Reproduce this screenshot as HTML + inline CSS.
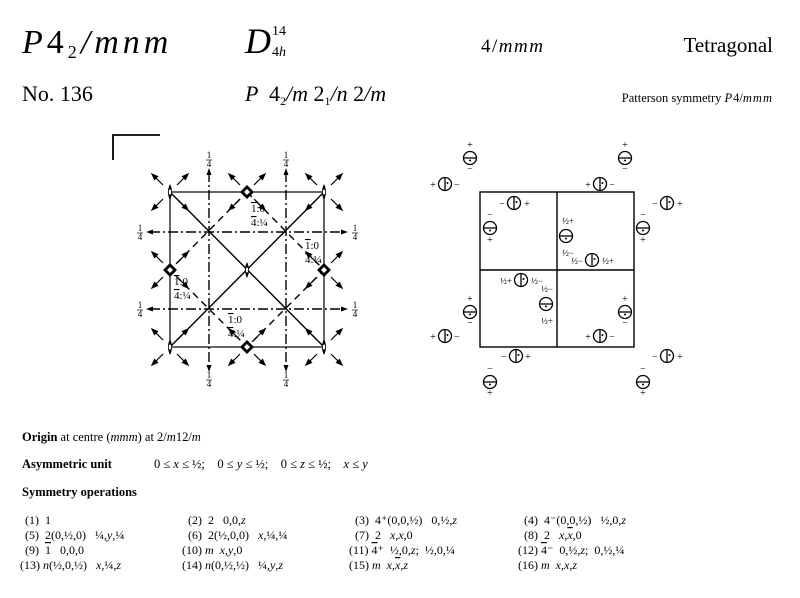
<!DOCTYPE html>
<html><head><meta charset="utf-8"><style>
body{margin:0;background:#fff;}
svg{display:block;font-family:"Liberation Serif",serif;}
text{white-space:pre;}
.i{font-style:italic}
.o{text-decoration:overline}
</style></head><body>
<svg width="800" height="598" viewBox="0 0 800 598" xmlns="http://www.w3.org/2000/svg" xml:space="preserve">
<defs>
<g id="cv"><circle r="6.5" fill="#fff" stroke="#000" stroke-width="1.3"/><line x1="0" y1="-6.5" x2="0" y2="6.5" stroke="#000" stroke-width="1.3"/><circle cx="2.5" cy="-1" r="1" fill="#000"/></g>
<g id="ch"><circle r="6.5" fill="#fff" stroke="#000" stroke-width="1.3"/><line x1="-6.5" y1="0" x2="6.5" y2="0" stroke="#000" stroke-width="1.3"/><circle cx="0" cy="2.5" r="1" fill="#000"/></g>
<g id="two"><path d="M0,-8 Q4,0 0,8 Q-4,0 0,-8Z" fill="#000"/><ellipse rx="1.2" ry="2.5" fill="#fff"/></g>
<g id="four"><path d="M0,-7 L7,0 L0,7 L-7,0Z" fill="#000"/><path d="M0,-3 L3,0 L0,3 L-3,0Z" fill="#fff"/></g>
<g id="arr" stroke="#000" stroke-width="1.2" fill="#000">
<line x1="7" y1="-7" x2="15" y2="-15"/><path d="M18,-18 L12.5,-15.5 L15.5,-12.5Z"/>
<line x1="-7" y1="-7" x2="-15" y2="-15"/><path d="M-18,-18 L-12.5,-15.5 L-15.5,-12.5Z"/>
<line x1="7" y1="7" x2="15" y2="15"/><path d="M18,18 L12.5,15.5 L15.5,12.5Z"/>
<line x1="-7" y1="7" x2="-15" y2="15"/><path d="M-18,18 L-12.5,15.5 L-15.5,12.5Z"/>
</g>
</defs>

<!-- header -->
<text x="22" y="53" font-size="34" class="i" letter-spacing="4">P<tspan font-style="normal">4</tspan><tspan font-size="18" font-style="normal" dy="5">2</tspan><tspan dy="-5">/mnm</tspan></text>
<text x="245" y="53" font-size="36" class="i">D</text>
<text x="272" y="35" font-size="14">14</text>
<text x="272" y="56" font-size="14">4<tspan class="i">h</tspan></text>
<text x="481" y="52" font-size="19" letter-spacing="1.5">4/<tspan class="i">mmm</tspan></text>
<text x="773" y="52" font-size="21" text-anchor="end">Tetragonal</text>
<text x="22" y="101" font-size="22">No. 136</text>
<text x="245" y="101" font-size="22" class="i">P  <tspan font-style="normal">4</tspan><tspan font-size="12" font-style="normal" dy="4">2</tspan><tspan dy="-4">/m </tspan><tspan font-style="normal">2</tspan><tspan font-size="12" font-style="normal" dy="4">1</tspan><tspan dy="-4">/n </tspan><tspan font-style="normal">2</tspan>/m</text>
<text x="773" y="102" font-size="12.5" text-anchor="end">Patterson symmetry <tspan class="i" letter-spacing="1">P</tspan>4/<tspan class="i" letter-spacing="1">mmm</tspan></text>

<!-- left diagram -->
<g stroke="#000" fill="none" stroke-width="1.4">
<polyline points="113,160 113,135 160,135" stroke-width="1.8"/>
<rect x="170" y="192" width="154" height="155" stroke-width="1.2"/>
<line x1="170" y1="192" x2="324" y2="347"/>
<line x1="324" y1="192" x2="170" y2="347"/>
<polygon points="247,192 324,270 247,347 170,270" stroke-dasharray="7,5"/>
<g stroke-dasharray="10,3,2,3">
<line x1="209" y1="172" x2="209" y2="368"/>
<line x1="286" y1="172" x2="286" y2="368"/>
<line x1="150" y1="232" x2="344" y2="232"/>
<line x1="150" y1="309" x2="344" y2="309"/>
</g>
</g>
<g fill="#000">
<path d="M209,168 l-2.5,7 h5z M286,168 l-2.5,7 h5z M209,372 l-2.5,-7 h5z M286,372 l-2.5,-7 h5z M146,232 l7,-2.5 v5z M146,309 l7,-2.5 v5z M348,232 l-7,-2.5 v5z M348,309 l-7,-2.5 v5z"/>
</g>
<g font-size="9" text-anchor="middle">
<text x="209" y="158">1</text><line x1="206" y1="160" x2="212" y2="160" stroke="#000" stroke-width=".7"/><text x="209" y="167">4</text>
<text x="286" y="158">1</text><line x1="283" y1="160" x2="289" y2="160" stroke="#000" stroke-width=".7"/><text x="286" y="167">4</text>
<text x="209" y="378">1</text><line x1="206" y1="380" x2="212" y2="380" stroke="#000" stroke-width=".7"/><text x="209" y="387">4</text>
<text x="286" y="378">1</text><line x1="283" y1="380" x2="289" y2="380" stroke="#000" stroke-width=".7"/><text x="286" y="387">4</text>
<text x="140" y="231">1</text><line x1="137" y1="233" x2="143" y2="233" stroke="#000" stroke-width=".7"/><text x="140" y="240">4</text>
<text x="140" y="308">1</text><line x1="137" y1="310" x2="143" y2="310" stroke="#000" stroke-width=".7"/><text x="140" y="317">4</text>
<text x="355" y="231">1</text><line x1="352" y1="233" x2="358" y2="233" stroke="#000" stroke-width=".7"/><text x="355" y="240">4</text>
<text x="355" y="308">1</text><line x1="352" y1="310" x2="358" y2="310" stroke="#000" stroke-width=".7"/><text x="355" y="317">4</text>
</g>
<g font-size="11">
<text x="251" y="212"><tspan class="o">1</tspan>:0</text><text x="251" y="226"><tspan class="o">4</tspan>:¼</text>
<text x="305" y="249"><tspan class="o">1</tspan>:0</text><text x="305" y="263"><tspan class="o">4</tspan>:¼</text>
<text x="174" y="285"><tspan class="o">1</tspan>:0</text><text x="174" y="299"><tspan class="o">4</tspan>:¼</text>
<text x="228" y="323"><tspan class="o">1</tspan>:0</text><text x="228" y="337"><tspan class="o">4</tspan>:¼</text>
</g>
<use href="#arr" x="170" y="192"/><use href="#arr" x="247" y="192"/><use href="#arr" x="324" y="192"/>
<use href="#arr" x="170" y="270"/><use href="#arr" x="324" y="270"/>
<use href="#arr" x="170" y="347"/><use href="#arr" x="247" y="347"/><use href="#arr" x="324" y="347"/>
<use href="#two" x="170" y="192"/><use href="#two" x="324" y="192"/><use href="#two" x="247" y="270"/><use href="#two" x="170" y="347"/><use href="#two" x="324" y="347"/>
<use href="#four" x="247" y="192"/><use href="#four" x="170" y="270"/><use href="#four" x="324" y="270"/><use href="#four" x="247" y="347"/>

<!-- right diagram -->
<g stroke="#000" fill="none" stroke-width="1.4">
<rect x="480" y="192" width="154" height="155"/>
<line x1="557" y1="192" x2="557" y2="347"/>
<line x1="480" y1="270" x2="634" y2="270"/>
</g>
<g font-size="10" text-anchor="middle">
<use href="#ch" x="470" y="158"/><text x="470" y="148">+</text><text x="470" y="172">−</text>
<use href="#cv" x="445" y="184"/><text x="433" y="188">+</text><text x="457" y="188">−</text>
<use href="#ch" x="625" y="158"/><text x="625" y="148">+</text><text x="625" y="172">−</text>
<use href="#cv" x="600" y="184"/><text x="588" y="188">+</text><text x="612" y="188">−</text>
<use href="#cv" x="514" y="203"/><text x="502" y="207">−</text><text x="527" y="207">+</text>
<use href="#ch" x="490" y="228"/><text x="490" y="218">−</text><text x="490" y="243">+</text>
<use href="#cv" x="667" y="203"/><text x="655" y="207">−</text><text x="680" y="207">+</text>
<use href="#ch" x="643" y="228"/><text x="643" y="218">−</text><text x="643" y="243">+</text>
<use href="#ch" x="566" y="236"/><text x="568" y="224" font-size="9">½+</text><text x="568" y="256" font-size="9">½−</text>
<use href="#cv" x="592" y="260"/><text x="577" y="264" font-size="9">½−</text><text x="608" y="264" font-size="9">½+</text>
<use href="#cv" x="521" y="280"/><text x="506" y="284" font-size="9">½+</text><text x="537" y="284" font-size="9">½−</text>
<use href="#ch" x="546" y="304"/><text x="547" y="292" font-size="9">½−</text><text x="547" y="324" font-size="9">½+</text>
<use href="#ch" x="470" y="312"/><text x="470" y="302">+</text><text x="470" y="326">−</text>
<use href="#cv" x="445" y="336"/><text x="433" y="340">+</text><text x="457" y="340">−</text>
<use href="#ch" x="625" y="312"/><text x="625" y="302">+</text><text x="625" y="326">−</text>
<use href="#cv" x="600" y="336"/><text x="588" y="340">+</text><text x="612" y="340">−</text>
<use href="#cv" x="516" y="356"/><text x="504" y="360">−</text><text x="528" y="360">+</text>
<use href="#ch" x="490" y="382"/><text x="490" y="372">−</text><text x="490" y="396">+</text>
<use href="#cv" x="667" y="356"/><text x="655" y="360">−</text><text x="680" y="360">+</text>
<use href="#ch" x="643" y="382"/><text x="643" y="372">−</text><text x="643" y="396">+</text>
</g>

<!-- text -->
<g font-size="12.5">
<text x="22" y="441"><tspan font-weight="bold">Origin</tspan> at centre (<tspan class="i">mmm</tspan>) at 2/<tspan class="i">m</tspan>12/<tspan class="i">m</tspan></text>
<text x="22" y="468"><tspan font-weight="bold">Asymmetric unit</tspan></text>
<text x="154" y="468">0 ≤ <tspan class="i">x</tspan> ≤ ½;    0 ≤ <tspan class="i">y</tspan> ≤ ½;    0 ≤ <tspan class="i">z</tspan> ≤ ½;    <tspan class="i">x</tspan> ≤ <tspan class="i">y</tspan></text>
<text x="22" y="496" font-weight="bold">Symmetry operations</text>
</g>
<g font-size="12">
<text x="25" y="524">(1)  1</text>
<text x="25" y="539">(5)  2(0,½,0)   ¼,<tspan class="i">y</tspan>,¼</text>
<text x="25" y="554">(9)  <tspan class="o">1</tspan>   0,0,0</text>
<text x="20" y="569">(13) <tspan class="i">n</tspan>(½,0,½)   <tspan class="i">x</tspan>,¼,<tspan class="i">z</tspan></text>
<text x="188" y="524">(2)  2   0,0,<tspan class="i">z</tspan></text>
<text x="188" y="539">(6)  2(½,0,0)   <tspan class="i">x</tspan>,¼,¼</text>
<text x="182" y="554">(10) <tspan class="i">m  x</tspan>,<tspan class="i">y</tspan>,0</text>
<text x="182" y="569">(14) <tspan class="i">n</tspan>(0,½,½)   ¼,<tspan class="i">y</tspan>,<tspan class="i">z</tspan></text>
<text x="355" y="524">(3)  4⁺(0,0,½)   0,½,<tspan class="i">z</tspan></text>
<text x="355" y="539">(7)  2   <tspan class="i">x</tspan>,<tspan class="i">x</tspan>,0</text>
<text x="349" y="554">(11) <tspan class="o">4</tspan>⁺  ½,0,<tspan class="i">z</tspan>;  ½,0,¼</text>
<text x="349" y="569">(15) <tspan class="i">m  x</tspan>,<tspan class="i o">x</tspan>,<tspan class="i">z</tspan></text>
<text x="524" y="524">(4)  4⁻(0,0,½)   ½,0,<tspan class="i">z</tspan></text>
<text x="524" y="539">(8)  2   <tspan class="i">x</tspan>,<tspan class="i o">x</tspan>,0</text>
<text x="518" y="554">(12) <tspan class="o">4</tspan>⁻  0,½,<tspan class="i">z</tspan>;  0,½,¼</text>
<text x="518" y="569">(16) <tspan class="i">m  x</tspan>,<tspan class="i">x</tspan>,<tspan class="i">z</tspan></text>
</g>
</svg>
</body></html>
